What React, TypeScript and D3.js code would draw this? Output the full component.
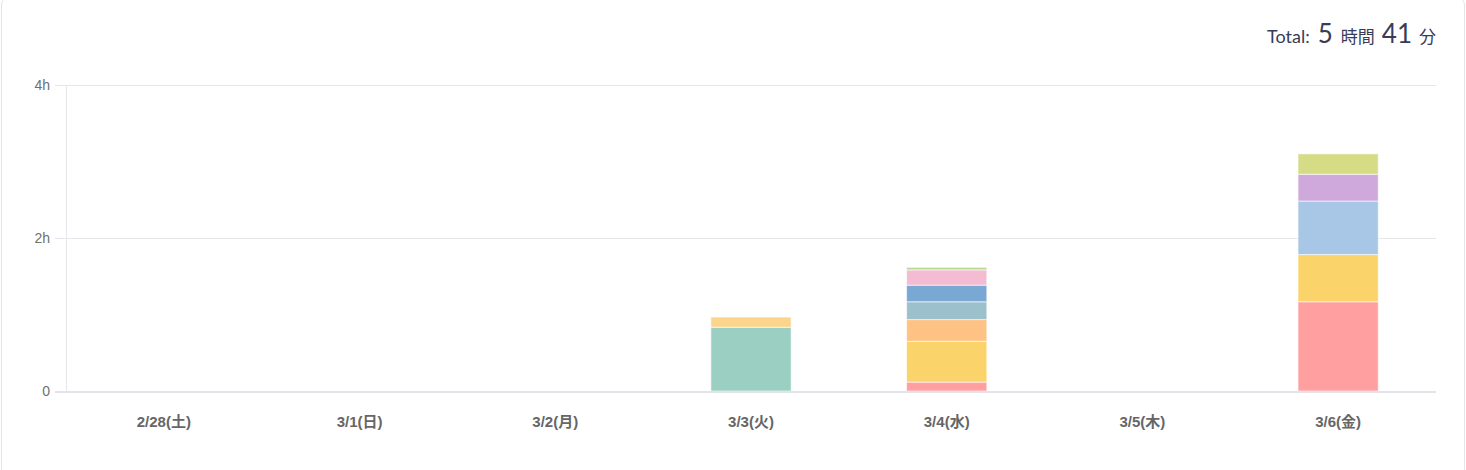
import React from "react";
import * as d3 from "d3";

// Days shown on the x axis
const days = ["2/28(土)", "3/1(日)", "3/2(月)", "3/3(火)", "3/4(水)", "3/5(木)", "3/6(金)"];

// Tasks (stack order, bottom to top) and their colours
const tasks = ["t1", "t2", "t3", "t4", "t5", "t6", "t7", "t8", "t9", "t10", "t11", "t12"];
const taskColors = [
  "#ff9f9f", // t1 red
  "#fad46b", // t2 yellow
  "#9acfc1", // t3 teal
  "#fbd58c", // t4 light amber
  "#ffc285", // t5 orange
  "#9dc1cc", // t6 grey blue
  "#7aa8d4", // t7 blue
  "#f4bcd2", // t8 pink
  "#b9da93", // t9 green
  "#a8c6e5", // t10 light blue
  "#cfa9dc", // t11 purple
  "#d5dc85", // t12 olive
];

// Minutes per task, one array per task, indexed by day
const t1 = [0, 0, 0, 0, 7, 0, 70];
const t2 = [0, 0, 0, 0, 32, 0, 37];
const t3 = [0, 0, 0, 50, 0, 0, 0];
const t4 = [0, 0, 0, 8, 0, 0, 0];
const t5 = [0, 0, 0, 0, 17, 0, 0];
const t6 = [0, 0, 0, 0, 14, 0, 0];
const t7 = [0, 0, 0, 0, 13, 0, 0];
const t8 = [0, 0, 0, 0, 12, 0, 0];
const t9 = [0, 0, 0, 0, 2, 0, 0];
const t10 = [0, 0, 0, 0, 0, 0, 42];
const t11 = [0, 0, 0, 0, 0, 0, 21];
const t12 = [0, 0, 0, 0, 0, 0, 16];

const taskMinutes = [t1, t2, t3, t4, t5, t6, t7, t8, t9, t10, t11, t12];

// Y axis ticks in hours
const yTicks = [0, 2, 4];
const yTickLabels = ["0", "2h", "4h"];

const W = 1466;
const H = 470;
const margin = { left: 66, right: 30, top: 85, bottom: 79 };

export default function App() {
  const rows = days.map((d, i) => {
    const r: Record<string, any> = { day: d };
    tasks.forEach((t, k) => (r[t] = taskMinutes[k][i] / 60));
    return r;
  });
  const stacked = d3.stack<any>().keys(tasks)(rows);

  const x = d3
    .scaleBand<string>()
    .domain(days)
    .range([margin.left, W - margin.right])
    .paddingInner(0.59)
    .paddingOuter(0.295);
  const y = d3
    .scaleLinear()
    .domain([0, 4])
    .range([H - margin.bottom, margin.top]);

  const totalMin = d3.sum(taskMinutes.flat());
  const hours = Math.floor(totalMin / 60);
  const mins = totalMin % 60;

  const x0 = margin.left;
  const x1 = W - margin.right;
  const yBase = y(0);

  return (
    <svg
      width={W}
      height={H}
      style={{ position: "absolute", left: 0, top: 0, background: "#fff" }}
      fontFamily="Lato, 'Noto Sans CJK JP', sans-serif"
    >
      {/* card frame */}
      <rect x={1.5} y={-3} width={W - 3} height={H + 10} rx={8} fill="#fff" stroke="#e4e4ea" strokeWidth={1} />

      {/* total */}
      <text x={1436} y={43} textAnchor="end" fill="#373c58" fontFamily="Lato, 'Noto Sans CJK JP', sans-serif">
        <tspan fontSize={18}>Total:</tspan>
        <tspan fontSize={26} dx={8}>{hours}</tspan>
        <tspan fontSize={17} dx={8} fontFamily="'Noto Sans CJK JP', sans-serif">時間</tspan>
        <tspan fontSize={26} dx={7}>{mins}</tspan>
        <tspan fontSize={17} dx={7} fontFamily="'Noto Sans CJK JP', sans-serif">分</tspan>
      </text>

      {/* grid + y ticks */}
      {yTicks.map((t, i) => (
        <g key={t}>
          {t !== 0 && <line x1={x0} x2={x1} y1={y(t) + 0.5} y2={y(t) + 0.5} stroke="#e6e6eb" />}
          <line x1={55} x2={x0} y1={y(t) + 0.5} y2={y(t) + 0.5} stroke="#e6e6eb" />
          <text
            x={50}
            y={y(t)}
            dy="0.35em"
            textAnchor="end"
            fontSize={14}
            fill="#707070"
            fontFamily="'Liberation Sans', Arial, sans-serif"
          >
            {yTickLabels[i]}
          </text>
        </g>
      ))}
      <line x1={x0 + 0.5} x2={x0 + 0.5} y1={y(4)} y2={yBase} stroke="#e6e6eb" />

      {/* stacked bars */}
      {stacked.map((layer, k) => (
        <g key={layer.key} fill={taskColors[k]}>
          {layer.map((seg, i) =>
            seg[1] - seg[0] > 0 ? (
              <rect
                key={i}
                x={x(days[i])!}
                width={x.bandwidth()}
                y={y(seg[1])}
                height={y(seg[0]) - y(seg[1])}
                stroke="#ffffff"
                strokeOpacity={0.6}
                strokeWidth={1}
              />
            ) : null
          )}
        </g>
      ))}

      {/* baseline */}
      <line x1={x0 - 11} x2={x1} y1={yBase + 1} y2={yBase + 1} stroke="#e3e3ea" strokeWidth={2} />

      {/* x labels */}
      {days.map((d) => (
        <text
          key={d}
          x={x(d)! + x.bandwidth() / 2}
          y={422}
          dy="0.35em"
          textAnchor="middle"
          fontSize={15}
          fontWeight="bold"
          fill="#666"
          fontFamily="'Liberation Sans', Arial, 'Noto Sans CJK JP', sans-serif"
        >
          {d}
        </text>
      ))}
    </svg>
  );
}
